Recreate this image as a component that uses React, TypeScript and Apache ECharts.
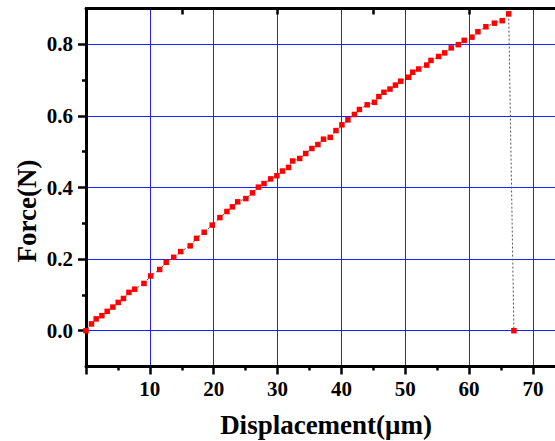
import React, { useEffect, useRef } from "react";
import * as echarts from "echarts";

const displacement = [0, 0.86, 1.60, 2.49, 3.32, 4.21, 5.04, 5.87, 6.72, 7.63, 9.08, 10.13, 11.54, 12.56, 13.74, 14.83, 16.32, 17.31, 18.51, 19.77, 20.97, 22.07, 22.93, 23.76, 25.04, 26.08, 27.00, 27.88, 28.93, 29.90, 30.78, 31.72, 32.37, 33.47, 34.41, 35.38, 36.32, 37.20, 38.25, 39.15, 40.08, 41.02, 42.04, 42.82, 44.04, 45.18, 45.87, 46.66, 47.61, 48.46, 49.29, 50.54, 51.17, 52.11, 53.36, 54.03, 55.24, 56.18, 57.20, 58.32, 59.23, 60.45, 61.38, 62.63, 63.96, 65.18, 66.20, 67.02];
const force = [0, 0.019, 0.033, 0.042, 0.054, 0.066, 0.079, 0.090, 0.107, 0.116, 0.132, 0.153, 0.171, 0.191, 0.205, 0.221, 0.237, 0.258, 0.275, 0.295, 0.316, 0.333, 0.346, 0.360, 0.369, 0.385, 0.401, 0.411, 0.424, 0.433, 0.446, 0.456, 0.474, 0.481, 0.495, 0.509, 0.520, 0.535, 0.540, 0.559, 0.575, 0.589, 0.604, 0.618, 0.631, 0.638, 0.654, 0.666, 0.675, 0.686, 0.697, 0.708, 0.722, 0.731, 0.742, 0.755, 0.766, 0.776, 0.790, 0.799, 0.811, 0.820, 0.835, 0.849, 0.859, 0.866, 0.885, 0];

const xTickLabels = [10, 20, 30, 40, 50, 60, 70];
const xTitle = "Displacement(μm)";
const yTitle = "Force(N)";

const FONT = '"Liberation Serif", "Times New Roman", serif';
const BLUE = "#1f1fff";

export default function App() {
  const ref = useRef<HTMLDivElement>(null);
  useEffect(() => {
    document.body.style.margin = "0";
    const chart = echarts.init(ref.current!, null, { renderer: "svg" });
    const gridLeft = 86;
    const gridTop = 8.5;
    const gridBottom = 74.5;
    const pxPerY = 358;
    const gridRight = -41.8;
    chart.setOption({
      animation: false,
      backgroundColor: "#ffffff",
      grid: [
        { left: gridLeft, top: gridTop, bottom: gridBottom, right: gridRight, containLabel: false, outerBoundsMode: "none" },
        { left: gridLeft, top: gridTop + 0.1 * pxPerY, bottom: gridBottom + 0.1 * pxPerY, right: gridRight, containLabel: false, outerBoundsMode: "none" },
      ],
      xAxis: [
        {
          gridIndex: 0,
          type: "value",
          position: "bottom",
          min: 0,
          max: 80,
          interval: 10,
          axisLine: { show: true, onZero: false, lineStyle: { color: "#000", width: 3 } },
          axisTick: { show: true, inside: false, length: 8, lineStyle: { color: "#000", width: 2.5 } },
          minorTick: { show: true, splitNumber: 2, length: 4, lineStyle: { color: "#000", width: 2.5 } },
          splitLine: { show: true, lineStyle: { color: BLUE, width: 1 } },
          axisLabel: {
            margin: 12,
            color: "#000",
            fontSize: 21,
            fontWeight: "bold",
            fontFamily: FONT,
            showMaxLabel: false,
            formatter: (v: number) => (xTickLabels.indexOf(v) >= 0 ? String(v) : ""),
          },
        },
        {
          gridIndex: 0,
          type: "value",
          position: "top",
          min: 0,
          max: 80,
          interval: 15,
          axisLine: { show: true, onZero: false, lineStyle: { color: "#000", width: 3 } },
          axisTick: { show: true, inside: true, length: 6, lineStyle: { color: "#000", width: 2.5 } },
          splitLine: { show: false },
          axisLabel: { show: false },
        },
        {
          gridIndex: 1,
          type: "value",
          min: 0,
          max: 80,
          show: false,
        },
      ],
      yAxis: [
        {
          gridIndex: 0,
          type: "value",
          min: -0.1,
          max: 0.9,
          position: "left",
          axisLine: { show: true, onZero: false, lineStyle: { color: "#000", width: 3 } },
          axisTick: { show: false },
          splitLine: { show: false },
          axisLabel: { show: false },
        },
        {
          gridIndex: 1,
          type: "value",
          min: 0,
          max: 0.8,
          interval: 0.2,
          position: "left",
          axisLine: { show: false, onZero: false },
          axisTick: { show: true, inside: false, length: 8, lineStyle: { color: "#000", width: 2.5 } },
          minorTick: { show: true, splitNumber: 2, length: 4, lineStyle: { color: "#000", width: 2.5 } },
          splitLine: { show: true, lineStyle: { color: BLUE, width: 1 } },
          axisLabel: {
            margin: 13,
            color: "#000",
            fontSize: 21,
            fontWeight: "bold",
            fontFamily: FONT,
            formatter: (v: number) => v.toFixed(1),
          },
        },
      ],
      series: [
        {
          type: "line",
          xAxisIndex: 0,
          yAxisIndex: 0,
          data: displacement.map((x, i) => [x, force[i]]),
          symbol: "rect",
          symbolSize: 5.5,
          itemStyle: { color: "#ff0000" },
          lineStyle: { color: "#555", width: 1, type: [2, 2] },
          z: 5,
        },
      ],
      graphic: [
        {
          type: "text",
          x: 27,
          y: 211,
          rotation: Math.PI / 2,
          style: {
            text: yTitle,
            font: `bold 27px ${FONT}`,
            fill: "#000",
            align: "center",
            verticalAlign: "middle",
          },
        },
        {
          type: "text",
          x: 326,
          y: 425,
          style: {
            text: xTitle,
            font: `bold 27px ${FONT}`,
            fill: "#000",
            align: "center",
            verticalAlign: "middle",
          },
        },
      ],
    });
    return () => chart.dispose();
  }, []);
  return (
    <div
      ref={ref}
      style={{ position: "fixed", left: 0, top: 0, width: 555, height: 441 }}
    />
  );
}
